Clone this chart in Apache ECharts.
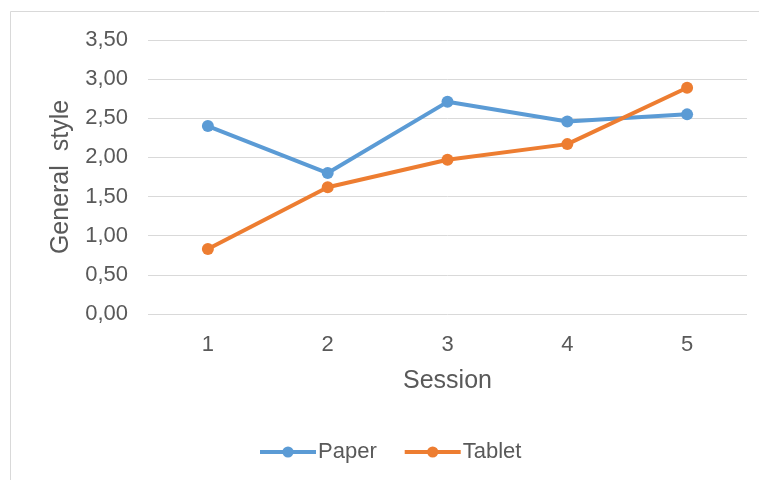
<!DOCTYPE html>
<html>
<head>
<meta charset="utf-8">
<script src="https://cdn.jsdelivr.net/npm/echarts@6/dist/echarts.min.js"></script>
<style>
  html, body { margin: 0; padding: 0; background: #fff; }
  #chart { width: 759px; height: 480px; }
</style>
</head>
<body>
<div id="chart"></div>
<script>
// Session scores for the two writing media
const sessions = ['1', '2', '3', '4', '5'];
const paperScores = [2.40, 1.80, 2.71, 2.46, 2.55];
const tabletScores = [0.83, 1.62, 1.97, 2.17, 2.89];
const seriesNames = ['Paper', 'Tablet'];

const FONT = '"Liberation Sans", Arial, sans-serif';
const TEXT = '#595959';

const chart = echarts.init(document.getElementById('chart'), null, { renderer: 'canvas' });

chart.setOption({
  animation: false,
  backgroundColor: '#fff',
  graphic: [{
    type: 'rect',
    shape: { x: 10.5, y: 11.5, width: 760, height: 480 },
    style: { fill: 'none', stroke: '#d9d9d9', lineWidth: 1 },
    silent: true
  }],
  grid: { left: 148, right: 12, top: 40, bottom: 166 },
  xAxis: {
    type: 'category',
    data: sessions,
    boundaryGap: true,
    name: 'Session',
    nameLocation: 'middle',
    nameGap: 55,
    nameTextStyle: { color: TEXT, fontSize: 25, fontFamily: FONT },
    axisLine: { show: false },
    axisTick: { show: false },
    axisLabel: { color: TEXT, fontSize: 22, fontFamily: FONT, margin: 20 }
  },
  yAxis: {
    type: 'value',
    min: 0,
    max: 3.5,
    interval: 0.5,
    name: 'General  style',
    nameLocation: 'middle',
    nameGap: 74,
    nameTextStyle: { color: TEXT, fontSize: 25, fontFamily: FONT },
    axisLine: { show: false },
    axisTick: { show: false },
    splitLine: { lineStyle: { color: '#d9d9d9', width: 1 } },
    axisLabel: {
      color: TEXT, fontSize: 22, fontFamily: FONT, margin: 20,
      formatter: v => v.toFixed(2).replace('.', ',')
    }
  },
  legend: {
    top: 436,
    left: 253,
    itemWidth: 56,
    itemHeight: 14,
    itemGap: 26,
    lineStyle: { width: 4 },
    textStyle: { color: TEXT, fontSize: 22, fontFamily: FONT, padding: [0, 0, 0, -3] },
    data: seriesNames
  },
  series: [
    {
      name: seriesNames[0],
      type: 'line',
      data: paperScores,
      color: '#5B9BD5',
      symbol: 'circle',
      symbolSize: 12,
      lineStyle: { width: 4 },
      itemStyle: { color: '#5B9BD5' }
    },
    {
      name: seriesNames[1],
      type: 'line',
      data: tabletScores,
      color: '#ED7D31',
      symbol: 'circle',
      symbolSize: 12,
      lineStyle: { width: 4 },
      itemStyle: { color: '#ED7D31' }
    }
  ]
});
</script>
</body>
</html>
